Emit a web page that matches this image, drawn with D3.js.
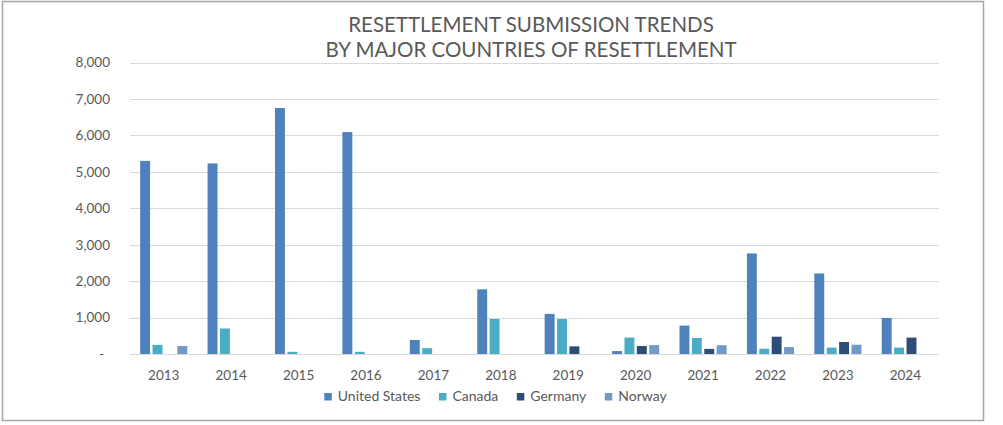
<!DOCTYPE html>
<html>
<head>
<meta charset="utf-8">
<script src="https://cdn.jsdelivr.net/npm/d3@7"></script>
<style>
  body { margin: 0; background: #fff; }
  text { font-family: Lato, "Open Sans", sans-serif; fill: #595959; }
</style>
</head>
<body>
<div id="chart"></div>
<script>
var width = 1003
var height = 425
var plot = {left: 130, right: 939, top: 62.5, bottom: 354}

var years = ["2013","2014","2015","2016","2017","2018","2019","2020","2021","2022","2023","2024"]
var seriesNames = ["United States","Canada","Germany","Norway"]
var colors = ["#4f81bd","#4bacc6","#2c4d75","#7399c6"]

// values, null = no bar
var unitedStates = [5300,5230,6750,6090,385,1775,1100,80,780,2760,2210,990]
var canada       = [250,700,60,60,160,960,960,450,440,145,175,175]
var germany      = [null,null,null,null,null,null,210,220,140,475,330,450]
var norway       = [220,null,null,null,null,null,null,245,240,190,255,null]
var seriesValues = [unitedStates, canada, germany, norway]

var yTicks = [0,1000,2000,3000,4000,5000,6000,7000,8000]
var titleLines = ["RESETTLEMENT SUBMISSION TRENDS", "BY MAJOR COUNTRIES OF RESETTLEMENT"]

var svg = d3.select("#chart").append("svg")
    .attr("width", width)
    .attr("height", height)

// chart frame
svg.append("rect")
    .attr("x", 2.5).attr("y", 1.5)
    .attr("width", 981).attr("height", 419)
    .attr("fill", "#fff")
    .attr("stroke", "#a6a6a6")
    .attr("stroke-width", 1.5)

var x0 = d3.scaleBand().domain(years).range([plot.left, plot.right])
var x1 = d3.scaleBand().domain(seriesNames).range([0, x0.bandwidth()])
    .paddingInner(0.2).paddingOuter(0.82)
var y = d3.scaleLinear().domain([0, 8000]).range([plot.bottom, plot.top])

// gridlines
svg.append("g")
  .selectAll("line")
  .data(yTicks)
  .enter().append("line")
    .attr("x1", plot.left).attr("x2", plot.right)
    .attr("y1", function(d){ return Math.round(y(d)) + 0.5 })
    .attr("y2", function(d){ return Math.round(y(d)) + 0.5 })
    .attr("stroke", "#d9d9d9")
    .attr("stroke-width", 1)

// y axis labels
var yAxis = d3.axisLeft(y)
    .tickValues(yTicks)
    .tickSize(0)
    .tickPadding(0)
    .tickFormat(function(d){ return d == 0 ? "-" : d3.format(",")(d) })
var yg = svg.append("g")
    .attr("transform", "translate(110,0)")
    .call(yAxis)
yg.select(".domain").remove()
yg.selectAll("text")
    .style("font-size", "13.5px")
    .attr("fill", "#595959")
    .attr("dx", function(d){ return d == 0 ? "-6" : "0" })

// bars
var groups = svg.append("g")
  .selectAll("g")
  .data(years)
  .enter().append("g")
    .attr("transform", function(d){ return "translate(" + x0(d) + ",0)" })

groups.selectAll("rect")
  .data(function(yr, i){
    return seriesNames.map(function(s, j){ return {series: s, idx: j, value: seriesValues[j][i]} })
      .filter(function(d){ return d.value != null })
  })
  .enter().append("rect")
    .attr("x", function(d){ return x1(d.series) })
    .attr("width", x1.bandwidth())
    .attr("y", function(d){ return y(d.value) })
    .attr("height", function(d){ return y(0) - y(d.value) })
    .attr("fill", function(d){ return colors[d.idx] })

// x axis labels
var xAxis = d3.axisBottom(x0).tickSize(0).tickPadding(0)
var xg = svg.append("g")
    .attr("transform", "translate(0," + plot.bottom + ")")
    .call(xAxis)
xg.select(".domain").remove()
xg.selectAll("text")
    .attr("y", 26)
    .attr("dy", 0)
    .style("font-size", "13.5px")
    .attr("fill", "#595959")

// title
svg.append("g").selectAll("text")
  .data(titleLines)
  .enter().append("text")
    .attr("x", 531)
    .attr("y", function(d, i){ return 31.5 + i * 25 })
    .attr("text-anchor", "middle")
    .style("font-size", "20.5px")
    .text(function(d){ return d })

// legend
var legend = svg.append("g")
var lx = 0
seriesNames.forEach(function(name, i){
  var item = legend.append("g").attr("transform", "translate(" + lx + ",0)")
  item.append("rect")
      .attr("x", 0).attr("y", 393)
      .attr("width", 7.5).attr("height", 7.5)
      .attr("fill", colors[i])
  var t = item.append("text")
      .attr("x", 13.5).attr("y", 401)
      .style("font-size", "14px")
      .text(name)
  lx += 13.5 + t.node().getComputedTextLength() + 18.5
})
var legendWidth = lx - 18.5
legend.attr("transform", "translate(" + (495.5 - legendWidth / 2) + ",0)")
</script>
</body>
</html>
